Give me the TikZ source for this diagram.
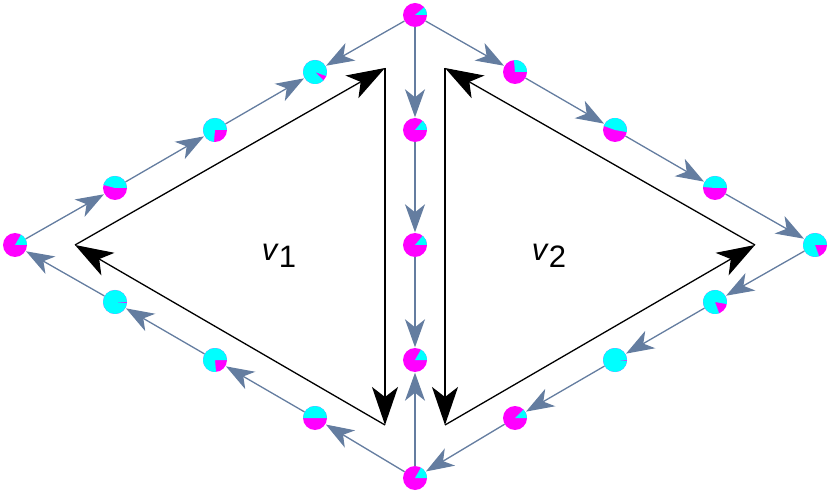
\documentclass[tikz,border=0pt]{standalone}
\usepackage{fontspec}
\setmainfont{Liberation Sans}
\usetikzlibrary{arrows.meta,positioning}
\definecolor{edgeblue}{RGB}{100,125,160}
\definecolor{piemag}{RGB}{255,0,255}
\definecolor{piecyan}{RGB}{0,255,255}
\begin{document}
\begin{tikzpicture}
 [x=1pt,y=-1pt,
 pie/.style={
  circle,
  inner sep=0pt,
  minimum size=24pt,
  fill=piemag},
 link/.style={->,>={Stealth[length=28pt,width=20pt,inset=8pt]},draw=edgeblue,line width=1.3pt,shorten >=0.5pt},
 loopedge/.style={->,>={Stealth[length=38pt,width=26pt,inset=10pt]},draw=black,line width=1.3pt},
 lbl/.style={font=\fontsize{31}{33}\selectfont}]
\useasboundingbox (0,0) rectangle (830,494);
% pies: name / position / cyan from / cyan to
\foreach \n/\p/\a/\b in {top/{415,15}/0/40, bot/{415,478}/0/60, lft/{15,245}/0/60, rgt/{815,245}/0/290,
  m1/{415,130}/0/50, m2/{415,245}/0/50, m3/{415,360}/0/60,
  lu1/{115,188}/0/165, lu2/{215,130}/0/265, lu3/{315,72}/-20/315,
  ll1/{115,302}/0/355, ll2/{215,360}/0/275, ll3/{315,418}/0/180,
  ru1/{515,72}/0/95, ru2/{615,130}/-10/160, ru3/{715,188}/0/175,
  rl1/{715,302}/-10/290, rl2/{615,360}/0/355, rl3/{515,418}/0/45}
 {\node (\n) [pie] at (\p) {};
  \fill[piecyan] (\n.center) -- ++(-\a:12) arc[start angle=-\a,end angle=-\b,radius=12] -- cycle;}
\path (top) edge[link] (lu3);
\path (lft) edge[link] (lu1);
\path (lu1) edge[link] (lu2);
\path (lu2) edge[link] (lu3);
\path (top) edge[link] (m1);
\path (m1) edge[link] (m2);
\path (m2) edge[link] (m3);
\path (bot) edge[link] (m3);
\path (bot) edge[link] (ll3);
\path (ll3) edge[link] (ll2);
\path (ll2) edge[link] (ll1);
\path (ll1) edge[link] (lft);
\path (top) edge[link] (ru1);
\path (ru1) edge[link] (ru2);
\path (ru2) edge[link] (ru3);
\path (ru3) edge[link] (rgt);
\path (rgt) edge[link] (rl1);
\path (rl1) edge[link] (rl2);
\path (rl2) edge[link] (rl3);
\path (rl3) edge[link] (bot);
% cycles
\coordinate (a1) at (75,245);
\coordinate (a2) at (385,68);
\coordinate (a3) at (385,425);
\coordinate (b1) at (755,245);
\coordinate (b2) at (445,68);
\coordinate (b3) at (445,425);
\path (a1) edge[loopedge] (a2);
\path (a2) edge[loopedge] (a3);
\path (a3) edge[loopedge] (a1);
\path (b3) edge[loopedge] (b1);
\path (b1) edge[loopedge] (b2);
\path (b2) edge[loopedge] (b3);
\node (v1) [lbl] at (279,256) {\textit{v}\raisebox{-0.45ex}{1}};
\node (v2) [lbl] at (549,256) {\textit{v}\raisebox{-0.45ex}{2}};
\end{tikzpicture}
\end{document}
